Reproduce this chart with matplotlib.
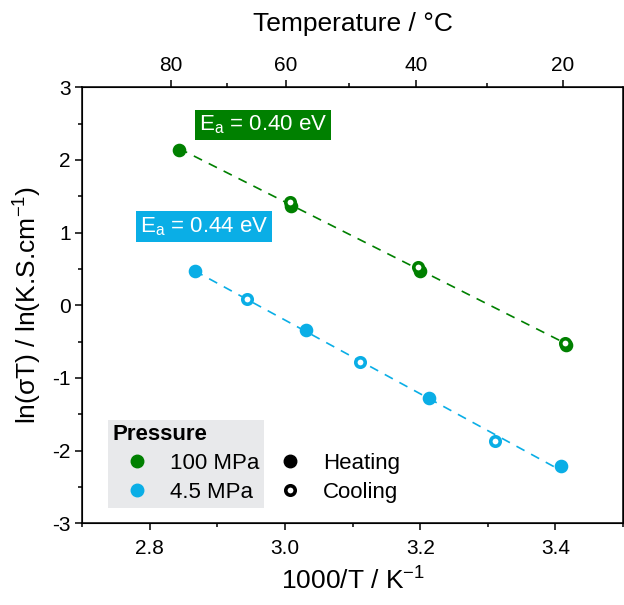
import numpy as np
import matplotlib.pyplot as plt
from matplotlib.lines import Line2D

plt.rcParams['font.family'] = ['Liberation Sans', 'DejaVu Sans']
plt.rcParams['mathtext.fontset'] = 'custom'
plt.rcParams['mathtext.rm'] = 'Liberation Sans'
plt.rcParams['mathtext.it'] = 'Liberation Sans:italic'

# data (x = 1000/T in 1/K, y = ln(sigma T))
x_100_heat = [2.843, 3.009, 3.199, 3.416]
y_100_heat = [2.14, 1.37, 0.47, -0.54]
x_100_cool = [3.008, 3.196, 3.414]
y_100_cool = [1.415, 0.53, -0.52]

x_45_heat = [2.866, 3.031, 3.213, 3.408]
y_45_heat = [0.476, -0.34, -1.28, -2.207]
x_45_cool = [2.944, 3.111, 3.311]
y_45_cool = [0.087, -0.78, -1.863]

ea_labels = ['0.40', '0.44']
temp_ticks = np.array([80, 60, 40, 20])
temp_minor = np.array([70, 50, 30])

GREEN = '#008000'
BLUE = '#0AAEE6'

fig = plt.figure(figsize=(6.24, 6.05), dpi=100)
ax = fig.add_axes([0.1319, 0.135, 0.8665, 0.7207])

# fitted lines (drawn below the markers)
for xh, yh, xc, yc, col in [(x_100_heat, y_100_heat, x_100_cool, y_100_cool, GREEN),
                            (x_45_heat, y_45_heat, x_45_cool, y_45_cool, BLUE)]:
    xa = np.array(xh + xc)
    ya = np.array(yh + yc)
    p = np.polyfit(xa, ya, 1)
    xf = np.array([xa.min(), xa.max()])
    ax.plot(xf, np.polyval(p, xf), color=col, lw=1.2,
            linestyle=(0, (5.5, 4.5)), zorder=2)

mk = dict(linestyle='none', marker='o', markersize=7.3, markeredgewidth=2.5, zorder=3)
mk_open = dict(linestyle='none', marker='o', markersize=6.8, markeredgewidth=2.6,
               markerfacecolor='white', zorder=4)
ax.plot(x_100_heat, y_100_heat, color=GREEN, **mk)
ax.plot(x_45_heat, y_45_heat, color=BLUE, **mk)
ax.plot(x_100_cool, y_100_cool, color=GREEN, **mk_open)
ax.plot(x_45_cool, y_45_cool, color=BLUE, **mk_open)

# activation energy labels
ax.text(2.9678, 2.481, r'E$_\mathregular{a}$ = ' + ea_labels[0] + ' eV', color='white',
        fontsize=16, ha='center', va='center',
        bbox=dict(boxstyle='square,pad=0.18', fc=GREEN, ec='none'))
ax.text(2.8796, 1.0845, r'E$_\mathregular{a}$ = ' + ea_labels[1] + ' eV', color='white',
        fontsize=16, ha='center', va='center',
        bbox=dict(boxstyle='square,pad=0.18', fc=BLUE, ec='none'))

ax.set_xlim(2.7, 3.5)
ax.set_ylim(-3, 3)
ax.set_xticks([2.8, 3.0, 3.2, 3.4])
ax.set_xticklabels(['2.8', '3.0', '3.2', '3.4'])
ax.set_xticks(np.arange(2.7, 3.51, 0.1), minor=True)
ax.set_yticks(np.arange(-3, 4, 1))
ax.set_yticklabels([str(v) for v in range(-3, 4)])
ax.set_yticks(np.arange(-3, 3.01, 0.5), minor=True)
ax.tick_params(which='both', direction='out', width=1.1, labelsize=15)
ax.tick_params(which='major', length=5)
ax.tick_params(which='minor', length=3)
ax.tick_params(axis='x', pad=6)
for s in ax.spines.values():
    s.set_linewidth(1.1)
ax.set_xlabel('1000/T / K$^{-1}$', fontsize=19, labelpad=7)
ax.set_ylabel('ln(σT) / ln(K.S.cm$^{-1}$)', fontsize=19, labelpad=6)

# top temperature axis
ax2 = ax.twiny()
ax2.set_xlim(ax.get_xlim())
ax2.set_xticks(1000.0 / (temp_ticks + 273.15))
ax2.set_xticklabels([str(t) for t in temp_ticks])
ax2.set_xticks(1000.0 / (temp_minor + 273.15), minor=True)
ax2.tick_params(which='both', direction='out', width=1.1, labelsize=15)
ax2.tick_params(which='major', length=5)
ax2.tick_params(which='minor', length=3)
ax2.set_xlabel('Temperature / °C', fontsize=19, labelpad=18)

# legends
h_p = [Line2D([], [], ls='none', marker='o', ms=9, color=GREEN),
       Line2D([], [], ls='none', marker='o', ms=9, color=BLUE)]
leg_kw = dict(title_fontproperties={'weight': 'bold', 'size': 16},
              alignment='left', fontsize=16, loc='upper left',
              bbox_transform=fig.transFigure, borderaxespad=0, borderpad=0.21,
              handlelength=2.16, handletextpad=0.42, labelspacing=0.36)
leg1 = ax.legend(h_p, ['100 MPa', '4.5 MPa'], title='Pressure',
                 frameon=True, fancybox=False,
                 facecolor='#E8E9EB', edgecolor='none', framealpha=1,
                 bbox_to_anchor=(108 / 624, 1 - 419.5 / 605), **leg_kw)
ax.add_artist(leg1)
h_m = [Line2D([], [], ls='none', marker='o', ms=9, color='black'),
       Line2D([], [], ls='none', marker='o', ms=6.8, mew=2.6, color='black',
              markerfacecolor='white')]
ax.legend(h_m, ['Heating', 'Cooling'], title=' ', frameon=False,
          bbox_to_anchor=(261.3 / 624, 1 - 419.5 / 605), **leg_kw)

fig.savefig('out.png', dpi=100)
